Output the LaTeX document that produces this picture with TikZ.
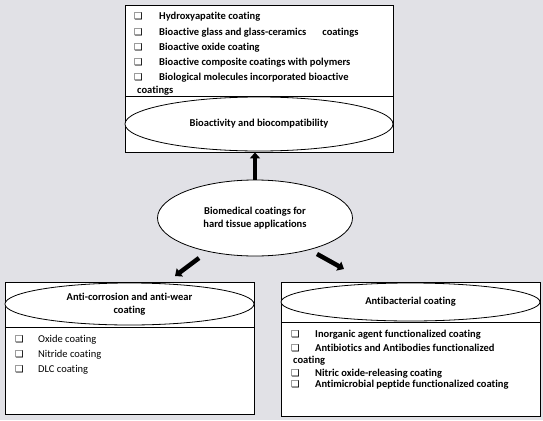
\documentclass[tikz,border=0pt]{standalone}
\usepackage{fontspec}
\setmainfont{Carlito}[Ligatures=NoCommon]
\newfontfamily\boxfont{DejaVu Sans}
\usetikzlibrary{arrows.meta}
\usetikzlibrary{shapes.geometric}
\definecolor{bggray}{RGB}{225,225,230}

\newcommand{\sqbul}{{\boxfont\bfseries\fontsize{9.5}{9.5}\selectfont ❑}}

\begin{document}
\begin{tikzpicture}[x=1pt,y=-1pt,
	panel/.style={draw, fill=white, line width=0.8pt, inner sep=0pt},
	oval/.style={ellipse, draw, fill=white, line width=0.8pt, inner sep=0pt, align=center, font=\bfseries\fontsize{10.5}{12.5}\selectfont},
	item/.style={anchor=base west, inner sep=0pt, font=\bfseries\fontsize{10.5}{12}\selectfont},
	bul/.style={anchor=base west, inner sep=0pt},
	bigarrow/.style={line width=4.5pt, -{Triangle[length=6pt,width=10pt]}}]
	\fill[bggray] (0,0) rectangle (543,420);
	\useasboundingbox (0,0) rectangle (543,420);
	
	\node[panel, minimum width=268, minimum height=147] (topbox) at (259,78.5) {};
	\draw[line width=0.8pt] (125,96) -- (393,96);
	\node[oval, minimum width=268, minimum height=54] (topell) at (259,124) {Bioactivity and biocompatibility};
	
	\node[bul] (tb1) at (134,20) {\sqbul};
	\node[item] (tt1) at (159,20) {Hydroxyapatite coating};
	\node[bul] (tb2) at (134,36) {\sqbul};
	\node[item] (tt2) at (159,36) {Bioactive glass and glass-ceramics\hspace{1.3em} coatings};
	\node[bul] (tb3) at (134,51) {\sqbul};
	\node[item] (tt3) at (159,51) {Bioactive oxide coating};
	\node[bul] (tb4) at (134,66) {\sqbul};
	\node[item] (tt4) at (159,66) {Bioactive composite coatings with polymers};
	\node[bul] (tb5) at (134,81) {\sqbul};
	\node[item] (tt5) at (159,81) {Biological molecules incorporated bioactive};
	\node[item] (tt6) at (137,93) {coatings};
	
	\node[oval, minimum width=195, minimum height=76] (hub) at (255,218) {Biomedical coatings for\\hard tissue applications};
	
	\node[panel, minimum width=249, minimum height=132] (leftbox) at (129.5,348) {};
	\draw[line width=0.8pt] (5,327) -- (254,327);
	\node[oval, minimum width=249, minimum height=42] (leftell) at (129.5,304) {Anti-corrosion and anti-wear\\coating};
	
	\node[bul] (lb1) at (15,342) {\sqbul};
	\node[item, font=\fontsize{10.5}{12}\selectfont] (lt1) at (38,342) {Oxide coating};
	\node[bul] (lb2) at (15,357) {\sqbul};
	\node[item, font=\fontsize{10.5}{12}\selectfont] (lt2) at (38,357) {Nitride coating};
	\node[bul] (lb3) at (15,372) {\sqbul};
	\node[item, font=\fontsize{10.5}{12}\selectfont] (lt3) at (38,372) {DLC coating};
	
	\node[panel, minimum width=259, minimum height=134] (rightbox) at (410.5,349) {};
	\draw[line width=0.8pt] (281,322) -- (540,322);
	\node[oval, minimum width=259, minimum height=38] (rightell) at (410.5,302) {Antibacterial coating};
	
	\node[bul] (rb1) at (291,337) {\sqbul};
	\node[item] (rt1) at (315,337) {Inorganic agent functionalized coating};
	\node[bul] (rb2) at (291,351) {\sqbul};
	\node[item] (rt2) at (315,351) {Antibiotics and Antibodies functionalized};
	\node[item] (rt3) at (293,363) {coating};
	\node[bul] (rb4) at (291,376) {\sqbul};
	\node[item] (rt4) at (315,376) {Nitric oxide-releasing coating};
	\node[bul] (rb5) at (291,387) {\sqbul};
	\node[item] (rt5) at (315,387) {Antimicrobial peptide functionalized coating};
	
	\coordinate (lfrom) at (199,258);
	\coordinate (lto) at (175,276);
	\coordinate (rfrom) at (317,254);
	\coordinate (rto) at (344,269);
	\draw[bigarrow] (hub.north) -- (hub.north |- topbox.south);
	\draw[bigarrow] (lfrom) -- (lto);
	\draw[bigarrow] (rfrom) -- (rto);
\end{tikzpicture}
\end{document}
